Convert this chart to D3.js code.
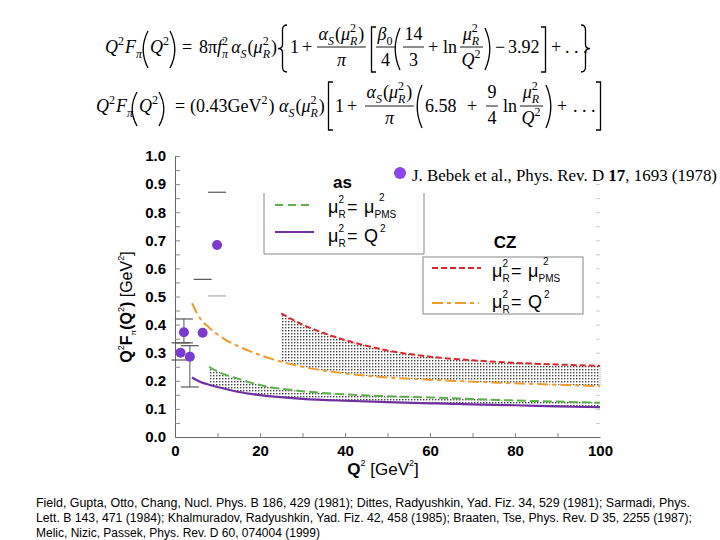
<!DOCTYPE html>
<html><head><meta charset="utf-8">
<script src="https://cdn.jsdelivr.net/npm/d3@7"></script>
<style>body{margin:0;background:#fff}</style>
</head><body><svg id="c" width="720" height="540" xmlns="http://www.w3.org/2000/svg"></svg>
<script>
// ---------- data ----------
const xTickVals = [0,10,20,30,40,50,60,70,80,90,100];
const xLabelVals = [0,20,40,60,80,100];
const yTickVals = [0,0.05,0.1,0.15,0.2,0.25,0.3,0.35,0.4,0.45,0.5,0.55,0.6,0.65,0.7,0.75,0.8,0.85,0.9,0.95,1.0];
const yLabelVals = [0,0.1,0.2,0.3,0.4,0.5,0.6,0.7,0.8,0.9,1.0];

// J. Bebek et al. data points
const expQ2 = [1.3, 2.1, 3.5, 6.5, 9.9];
const expF  = [0.300, 0.373, 0.286, 0.371, 0.683];
const expHi = [0.335, 0.420, 0.325, 0.561, 0.871];
const expLo = [0.274, 0.335, 0.178, null, 0.502];
const expVline = [false, true, true, false, false];

// as, mu_R^2 = Q^2 (purple solid)
const asQ2Q = [4,6,8,10,15,20,30,40,50,60,70,80,90,100];
const asQ2F = [0.212,0.196,0.186,0.178,0.160,0.149,0.136,0.129,0.124,0.120,0.116,0.113,0.109,0.106];
// as, mu_R^2 = mu_PMS^2 (green dashed)
const asPmsQ = [8,10,15,20,30,40,50,60,70,80,90,100];
const asPmsF = [0.250,0.233,0.207,0.185,0.163,0.152,0.145,0.141,0.135,0.130,0.126,0.122];
// CZ, mu_R^2 = Q^2 (orange dash-dot)
const czQ2Q = [4,6,8,10,12,15,20,25,30,40,50,60,70,80,90,100];
const czQ2F = [0.476,0.420,0.390,0.365,0.345,0.322,0.292,0.268,0.250,0.226,0.212,0.204,0.197,0.191,0.186,0.181];
// CZ, mu_R^2 = mu_PMS^2 (red dashed)
const czPmsQ = [25,30,35,40,45,50,60,70,80,90,100];
const czPmsF = [0.440,0.400,0.370,0.345,0.325,0.308,0.286,0.273,0.264,0.258,0.253];

const refLines = [
 "Field, Gupta, Otto, Chang, Nucl. Phys. B 186, 429 (1981); Dittes, Radyushkin, Yad. Fiz. 34, 529 (1981); Sarmadi, Phys.",
 "Lett. B 143, 471 (1984); Khalmuradov, Radyushkin, Yad. Fiz. 42, 458 (1985); Braaten, Tse, Phys. Rev. D 35, 2255 (1987);",
 "Melic, Nizic, Passek, Phys. Rev. D 60, 074004 (1999)"
];

// ---------- setup ----------
const svg = d3.select('#c');
const SANS = "'Liberation Sans', Arial, sans-serif";
const SERIF = "'Liberation Serif', 'Times New Roman', serif";
const x = d3.scaleLinear().domain([0,100]).range([175,600]);
const y = d3.scaleLinear().domain([0,1]).range([437,156]);

const defs = svg.append('defs');
const pat = defs.append('pattern').attr('id','dots').attr('patternUnits','userSpaceOnUse').attr('width',3).attr('height',3);
pat.append('rect').attr('width',3).attr('height',3).attr('fill','#fff');
pat.append('rect').attr('width',1.4).attr('height',1.4).attr('fill','#444');

// ---------- formulas ----------
const FS = 18, SS = 12;
function layout(g, items, x0, base) {
  let cx = x0;
  for (let it of items) {
    if (typeof it === 'string') it = {t: it};
    if (it.at !== undefined) { cx = it.at; continue; }
    if (it.sp !== undefined) { cx += it.sp; continue; }
    if (it.t !== undefined) {
      const el = g.append('text').attr('x', cx).attr('y', base + (it.dy||0))
        .attr('font-family', SERIF).attr('font-size', it.s||FS)
        .attr('font-style', it.i ? 'italic' : 'normal').text(it.t);
      cx += el.node().getComputedTextLength();
    } else if (it.ss) {
      let w = 0;
      if (it.ss[0]) { const e = g.append('text').attr('x', cx).attr('y', base-8).attr('font-family',SERIF).attr('font-size',SS).text(it.ss[0]); w = Math.max(w, e.node().getComputedTextLength()); }
      if (it.ss[1]) { const e = g.append('text').attr('x', cx).attr('y', base+4.5).attr('font-family',SERIF).attr('font-size',SS).attr('font-style', it.si===false?'normal':'italic').text(it.ss[1]); w = Math.max(w, e.node().getComputedTextLength()); }
      cx += w + 1;
    } else if (it.frac) {
      const gn = g.append('g'), gd = g.append('g');
      const wn = layout(gn, it.frac[0], 0, 0), wd = layout(gd, it.frac[1], 0, 0);
      const w = Math.max(wn, wd) + 3;
      gn.attr('transform', `translate(${cx + (w-wn)/2},${base - it.up})`);
      gd.attr('transform', `translate(${cx + (w-wd)/2},${base + it.down})`);
      g.append('line').attr('x1', cx).attr('x2', cx+w).attr('y1', base-it.ax).attr('y2', base-it.ax).attr('stroke','#000').attr('stroke-width',0.9);
      cx += w + 2;
    } else if (it.d) {
      const t = base - it.top, b = base + it.bot, m = (t+b)/2, w = it.w;
      let p;
      if (it.d === '(') p = `M${cx+w},${t} Q${cx-w*0.6},${m} ${cx+w},${b}`;
      else if (it.d === ')') p = `M${cx},${t} Q${cx+w*1.6},${m} ${cx},${b}`;
      else if (it.d === '[') p = `M${cx+w},${t} H${cx+1.5} V${b} H${cx+w}`;
      else if (it.d === ']') p = `M${cx},${t} H${cx+w-1.5} V${b} H${cx}`;
      else if (it.d === '{') p = `M${cx+w},${t} Q${cx+w/2},${t} ${cx+w/2},${t+5} V${m-4} Q${cx+w/2},${m} ${cx},${m} Q${cx+w/2},${m} ${cx+w/2},${m+4} V${b-5} Q${cx+w/2},${b} ${cx+w},${b}`;
      else if (it.d === '}') p = `M${cx},${t} Q${cx+w/2},${t} ${cx+w/2},${t+5} V${m-4} Q${cx+w/2},${m} ${cx+w},${m} Q${cx+w/2},${m} ${cx+w/2},${m+4} V${b-5} Q${cx+w/2},${b} ${cx},${b}`;
      g.append('path').attr('d', p).attr('fill','none').attr('stroke','#000').attr('stroke-width', 1.3);
      cx += w + 2;
    }
  }
  return cx - x0;
}
const I = s => ({t:s, i:1});
const alphaS = [I('α'), {ss:[null,'S']}, '(', I('μ'), {ss:['2','R']}, ')'];

const F1 = [
  {at:105}, I('Q'), {ss:['2',null]}, I('F'), {ss:[null,'π']},
  {at:142}, {d:'(', top:22, bot:15, w:6}, I('Q'), {ss:['2',null]}, {d:')', top:22, bot:15, w:6},
  {at:182}, '=',
  {at:199}, '8π', I('f'), {ss:['2','π']}, {sp:2}, ...alphaS,
  {at:278}, {d:'{', top:28, bot:19, w:9},
  {at:290}, '1', {at:302}, '+',
  {at:317}, {frac:[alphaS, [I('π')]], up:13, down:13, ax:6},
  {at:370}, {d:'[', top:26, bot:19, w:6},
  {at:376}, {frac:[[I('β'), {ss:[null,'0'], si:false}], ['4']], up:13, down:13, ax:6},
  {at:394}, {d:'(', top:25, bot:17, w:6},
  {at:403}, {frac:[['14'], ['3']], up:13, down:13, ax:6},
  {at:428}, '+', {at:443}, 'ln',
  {at:460}, {frac:[[I('μ'), {ss:['2','R']}], [I('Q'), {ss:['2',null]}]], up:13, down:13, ax:6},
  {at:485}, {d:')', top:25, bot:17, w:6},
  {at:495}, '−', {at:508}, '3.92',
  {at:541}, {d:']', top:26, bot:19, w:6},
  {at:551}, '+', {at:565}, '. . .',
  {at:581}, {d:'}', top:28, bot:19, w:9}
];
layout(svg.append('g'), F1, 0, 53);

const F2 = [
  {at:96}, I('Q'), {ss:['2',null]}, I('F'), {ss:[null,'π']},
  {at:131}, {d:'(', top:20, bot:14, w:6}, I('Q'), {ss:['2',null]}, {d:')', top:20, bot:14, w:6},
  {at:175}, '=',
  {at:190}, '(0.43GeV', {ss:['2',null]}, ')',
  {at:279}, ...alphaS,
  {at:327}, {d:'[', top:30, bot:18, w:6},
  {at:335}, '1', {at:347}, '+',
  {at:365}, {frac:[alphaS, [I('π')]], up:14, down:12, ax:6},
  {at:416}, {d:'(', top:27, bot:16, w:6},
  {at:425}, '6.58', {at:467}, '+',
  {at:486}, {frac:[['9'], ['4']], up:14, down:12, ax:6},
  {at:503}, 'ln',
  {at:520}, {frac:[[I('μ'), {ss:['2','R']}], [I('Q'), {ss:['2',null]}]], up:14, down:12, ax:6},
  {at:546}, {d:')', top:27, bot:16, w:6},
  {at:557}, '+', {at:573}, '. . .',
  {at:596}, {d:']', top:30, bot:18, w:6}
];
layout(svg.append('g'), F2, 0, 112);

// ---------- axes ----------
const yAxis = d3.axisLeft(y).tickValues(yTickVals).tickSize(-5).tickSizeOuter(0).tickPadding(9)
  .tickFormat(d => yLabelVals.some(v => Math.abs(v-d) < 1e-9) ? d3.format('.1f')(d) : '');
const gy = svg.append('g').attr('transform', `translate(${x(0)},0)`).call(yAxis);
gy.select('.domain').attr('stroke','#666');
gy.selectAll('.tick line').attr('stroke','#888');
gy.selectAll('.tick text').attr('font-family', SANS).attr('font-size', 15).attr('font-weight','bold').attr('fill','#000');

const xAxis = d3.axisBottom(x).tickValues(xTickVals).tickSize(-4).tickSizeOuter(0).tickPadding(8)
  .tickFormat(d => xLabelVals.includes(d) ? d : '');
const gx = svg.append('g').attr('transform', `translate(0,${y(0)})`).call(xAxis);
gx.select('.domain').attr('stroke','#666');
gx.selectAll('.tick line').attr('stroke','#888');
gx.selectAll('.tick text').attr('font-family', SANS).attr('font-size', 15).attr('font-weight','bold').attr('fill','#000');
gx.selectAll('.tick').filter(d => d === 0 || d === 100).select('line').remove();

// faint right-side ticks
const yRight = d3.axisLeft(y).tickValues(yTickVals.filter(v => v > 0 && v < 0.96)).tickSize(4).tickFormat('');
const gr = svg.append('g').attr('transform', `translate(${x(100)},0)`).call(yRight);
gr.select('.domain').remove();
gr.selectAll('.tick line').attr('stroke','#ccc');

// axis titles
const yl = svg.append('text').attr('transform', `translate(132,307) rotate(-90)`).attr('text-anchor','middle')
  .attr('font-family', SANS).attr('font-size', 16).attr('fill','#000');
yl.append('tspan').attr('font-weight','bold').text('Q');
yl.append('tspan').attr('font-size', 9).attr('dy', -8).text('2');
yl.append('tspan').attr('font-weight','bold').attr('dy', 8).text('F');
yl.append('tspan').attr('font-size', 8).attr('dy', 4).text('π');
yl.append('tspan').attr('font-weight','bold').attr('dy', -4).text('(Q');
yl.append('tspan').attr('font-size', 9).attr('dy', -8).text('2');
yl.append('tspan').attr('font-weight','bold').attr('dy', 8).text(') ');
yl.append('tspan').text('[GeV');
yl.append('tspan').attr('font-size', 9).attr('dy', -8).text('2');
yl.append('tspan').attr('dy', 8).text(']');

const xl = svg.append('text').attr('x', 383).attr('y', 475).attr('text-anchor','middle')
  .attr('font-family', SANS).attr('font-size', 17).attr('fill','#000');
xl.append('tspan').attr('font-weight','bold').text('Q');
xl.append('tspan').attr('font-size', 9).attr('dy', -9).text('2');
xl.append('tspan').attr('dy', 9).text(' [GeV');
xl.append('tspan').attr('font-size', 9).attr('dy', -9).text('2');
xl.append('tspan').attr('dy', 9).text(']');

// ---------- shaded bands ----------
const ptsOf = (qs, fs) => qs.map((q,i) => [q, fs[i]]);
const asQ2 = ptsOf(asQ2Q, asQ2F), asPms = ptsOf(asPmsQ, asPmsF);
const czQ2 = ptsOf(czQ2Q, czQ2F), czPms = ptsOf(czPmsQ, czPmsF);
const line = d3.line().x(d => x(d[0])).y(d => y(d[1])).curve(d3.curveMonotoneX);

function band(upper, lower) {
  const q0 = upper[0][0], q1 = upper[upper.length-1][0];
  const lo = lower.filter(d => d[0] >= q0 && d[0] <= q1);
  const top = line(upper);
  const botPath = line(lo.slice().reverse());
  return top + 'L' + botPath.slice(1) + 'Z';
}
svg.append('path').attr('d', band(asPms, asQ2)).attr('fill','url(#dots)');
svg.append('path').attr('d', band(czPms, czQ2)).attr('fill','url(#dots)');
svg.append('line').attr('x1', x(100)).attr('x2', x(100)).attr('y1', y(czPmsF[czPmsF.length-1])).attr('y2', y(czQ2F[czQ2F.length-1])).attr('stroke','#999').attr('stroke-dasharray','1,1');

// ---------- curves ----------
svg.append('path').attr('d', line(czQ2)).attr('fill','none').attr('stroke','#ef9a2c').attr('stroke-width',2).attr('stroke-dasharray','11,4,4,4');
svg.append('path').attr('d', line(czPms)).attr('fill','none').attr('stroke','#d8282e').attr('stroke-width',2).attr('stroke-dasharray','6,3');
svg.append('path').attr('d', line(asPms)).attr('fill','none').attr('stroke','#5db04a').attr('stroke-width',2).attr('stroke-dasharray','9,4');
svg.append('path').attr('d', line(asQ2)).attr('fill','none').attr('stroke','#7030a0').attr('stroke-width',2.2);

// ---------- data points with error bars ----------
const capW = 9;
expQ2.forEach((q, i) => {
  const cxp = x(q);
  [expHi[i], expLo[i]].forEach(v => {
    if (v === null) return;
    svg.append('line').attr('x1', cxp-capW).attr('x2', cxp+capW).attr('y1', y(v)).attr('y2', y(v))
      .attr('stroke', v === 0.502 ? '#aaa' : '#555').attr('stroke-width',1.2);
  });
  if (expVline[i]) svg.append('line').attr('x1', cxp).attr('x2', cxp).attr('y1', y(expHi[i])).attr('y2', y(expLo[i])).attr('stroke','#555').attr('stroke-width',1);
});
svg.selectAll('circle.pt').data(expQ2).join('circle').attr('class','pt')
  .attr('cx', d => x(d)).attr('cy', (d,i) => y(expF[i])).attr('r', 5).attr('fill','#7a3acc');

// ---------- legends ----------
function muEq(xp, base, rhs) {
  const g = svg.append('g').attr('font-family', SANS).attr('fill','#000');
  g.append('text').attr('x', xp).attr('y', base).attr('font-size', 18).text('μ');
  g.append('text').attr('x', xp+10.5).attr('y', base-10).attr('font-size', 10).text('2');
  g.append('text').attr('x', xp+10.5).attr('y', base+5).attr('font-size', 10).text('R');
  g.append('text').attr('x', xp+19).attr('y', base).attr('font-size', 18).text('=');
  if (rhs === 'PMS') {
    g.append('text').attr('x', xp+36).attr('y', base).attr('font-size', 18).text('μ');
    g.append('text').attr('x', xp+51).attr('y', base-12).attr('font-size', 10).text('2');
    g.append('text').attr('x', xp+46.5).attr('y', base+5).attr('font-size', 10).text('PMS');
  } else {
    g.append('text').attr('x', xp+36).attr('y', base).attr('font-size', 18).text('Q');
    g.append('text').attr('x', xp+52).attr('y', base-10).attr('font-size', 10).text('2');
  }
}
// legend "as"
svg.append('path').attr('d','M264,193V254H424V193').attr('fill','none').attr('stroke','#888');
svg.append('text').attr('x', 333).attr('y', 188).attr('font-family',SANS).attr('font-weight','bold').attr('font-size',17).text('as');
svg.append('line').attr('x1',275).attr('x2',314).attr('y1',205).attr('y2',205).attr('stroke','#5db04a').attr('stroke-width',2).attr('stroke-dasharray','8,5');
muEq(328, 213, 'PMS');
svg.append('line').attr('x1',275).attr('x2',314).attr('y1',232).attr('y2',232).attr('stroke','#7030a0').attr('stroke-width',2);
muEq(328, 242, 'Q');

// legend "CZ"
svg.append('text').attr('x', 505).attr('y', 248).attr('text-anchor','middle').attr('font-family',SANS).attr('font-weight','bold').attr('font-size',17).text('CZ');
svg.append('rect').attr('x',423).attr('y',257).attr('width',160).attr('height',57).attr('fill','#fff').attr('stroke','#888');
svg.append('line').attr('x1',432).attr('x2',481).attr('y1',268).attr('y2',268).attr('stroke','#d8282e').attr('stroke-width',2).attr('stroke-dasharray','6,3');
muEq(492, 277, 'PMS');
svg.append('line').attr('x1',432).attr('x2',479).attr('y1',303).attr('y2',303).attr('stroke','#ef9a2c').attr('stroke-width',2).attr('stroke-dasharray','11,4,4,4');
muEq(492, 308, 'Q');

// top legend: data source
svg.append('circle').attr('cx',400).attr('cy',173).attr('r',6).attr('fill','#8b45e8');
const src = svg.append('text').attr('x',412).attr('y',181).attr('font-family',SERIF).attr('font-size',16).attr('fill','#000')
  .attr('textLength', 305).attr('lengthAdjust','spacingAndGlyphs');
src.append('tspan').text('J. Bebek et al., Phys. Rev. D ');
src.append('tspan').attr('font-weight','bold').text('17');
src.append('tspan').text(', 1693 (1978)');

// ---------- references ----------
const refW = [654, 656, null];
refLines.forEach((s, i) => {
  const t = svg.append('text').attr('x', 36).attr('y', 507 + i*15).attr('font-family', SANS).attr('font-size', 12).attr('fill','#000').text(s);
  if (refW[i]) t.attr('textLength', refW[i]).attr('lengthAdjust','spacingAndGlyphs');
});
</script>
</body></html>
